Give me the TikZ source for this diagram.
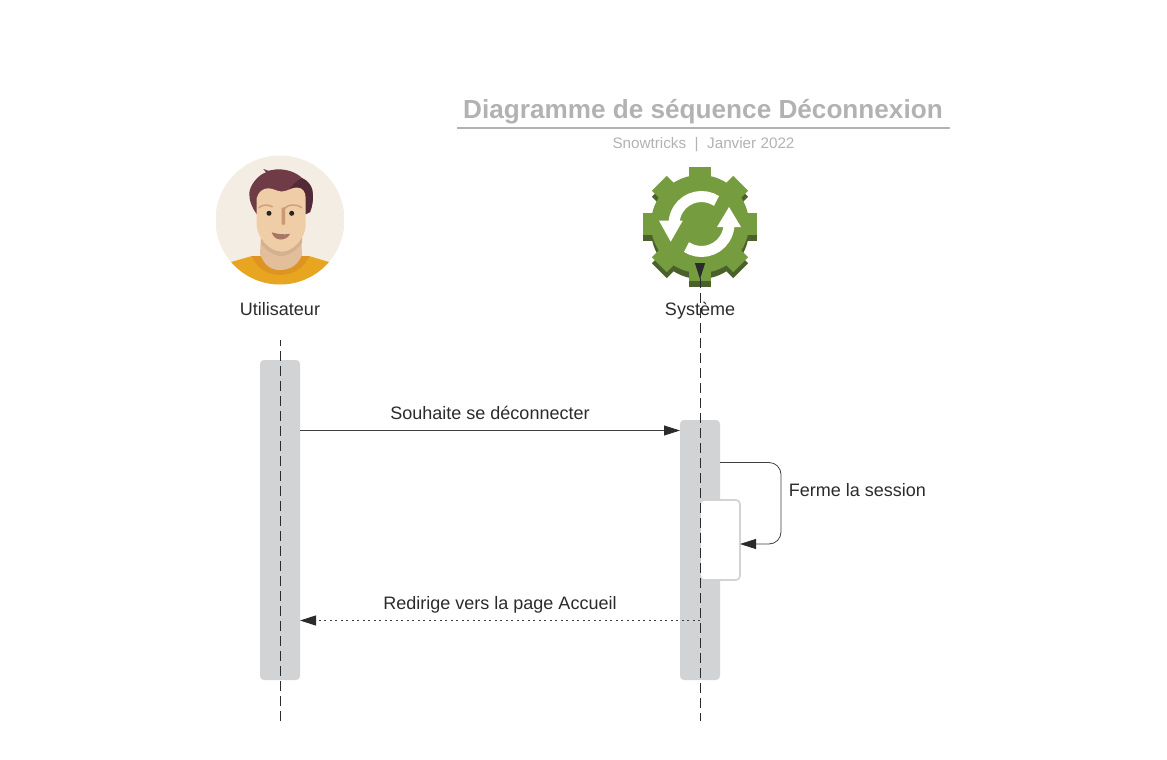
\documentclass[tikz,border=0pt]{standalone}
\usepackage{fontspec}
\setmainfont{Liberation Sans}
\usetikzlibrary{arrows.meta,calc}
\definecolor{bargrey}{HTML}{D1D3D4}
\definecolor{ink}{HTML}{2B2B2B}
\definecolor{wire}{HTML}{3F3F3F}
\definecolor{titlegrey}{HTML}{B2B2B2}
\definecolor{gearlight}{HTML}{759C3E}
\definecolor{geardark}{HTML}{4B612C}
\definecolor{avbg}{HTML}{F4EDE4}
\definecolor{shirt}{HTML}{E8A520}
\definecolor{collar}{HTML}{DE9420}
\definecolor{neck}{HTML}{E2BF9A}
\definecolor{neckshade}{HTML}{D3B08F}
\definecolor{hair}{HTML}{6F3B47}
\definecolor{hairdark}{HTML}{532A38}
\definecolor{skin}{HTML}{EFCDA6}
\definecolor{brow}{HTML}{CFA07A}
\definecolor{eye}{HTML}{2B2320}
\definecolor{nose}{HTML}{C99A73}
\definecolor{mouth}{HTML}{A97565}
\tikzset{
  x=1pt,y=-1pt,
  bar/.style={rectangle,fill=bargrey,rounded corners=4pt,minimum width=40pt,inner sep=0pt,outer sep=0pt},
  selfbox/.style={rectangle,fill=white,draw=bargrey,line width=1.7pt,rounded corners=4pt,minimum width=40pt,minimum height=80pt,inner sep=0pt,outer sep=0pt},
  lifeline/.style={draw=ink,line width=0.9pt,dash pattern=on 10pt off 5pt},
  msg/.style={draw=wire,line width=0.8pt,-{Triangle[length=16pt,width=10pt,color=ink]}},
  lbl/.style={text=ink,font=\fontsize{18}{21}\selectfont,inner sep=0pt},
  gearshape/.pic={
    \fill (0,0) circle[radius=49];
    \foreach \a in {0,90,180,270}{
      \begin{scope}[rotate=\a]\fill (-11,-57) rectangle (11,-40);\end{scope}
    }
    \foreach \a in {45,135,225,315}{
      \begin{scope}[rotate=\a]\fill (-10.5,-57.5) rectangle (10.5,-40);\end{scope}
    }
  }
}
\begin{document}
\begin{tikzpicture}
\useasboundingbox (0,0) rectangle (1167,760);
% title
\node[text=titlegrey,font=\fontsize{26.15}{30}\selectfont\bfseries,inner sep=0pt] (title) at (703,111.5) {Diagramme de séquence Déconnexion};
\coordinate (ruleL) at (457,128);
\coordinate (ruleR) at (950,128);
\draw[titlegrey,line width=1.6pt] (ruleL) -- (ruleR);
\node[text=titlegrey,font=\fontsize{15.25}{17}\selectfont,inner sep=0pt] (subtitle) at (703.5,145) {Snowtricks \ | \ Janvier 2022};
% user avatar
\begin{scope}
  \clip (280,220) circle[radius=64.5];
  \clip (216,150) rectangle (344,284);
  \fill[avbg] (200,150) rectangle (360,290);
  % shirt
  \fill[shirt] (231,262) -- (252,256) -- (309,256) -- (329,262) -- (345,290) -- (215,290) -- cycle;
  \fill[collar] (252,256) .. controls (256,268) and (268,275) .. (280,275) .. controls (294,275) and (304,268) .. (309,256) -- cycle;
  % neck
  \fill[neck] (261,235) -- (301,235) -- (302,255) .. controls (298,265) and (290,270) .. (280,270) .. controls (271,270) and (264,265) .. (260,254) -- cycle;
  \fill[neckshade] (261,235) -- (302,235) -- (302,243) .. controls (297,250) and (288,256) .. (281,256) .. controls (274,256) and (266,250) .. (261,244) -- cycle;
  % hair
  \fill[hair] (263.3,169) -- (268.3,170.7) .. controls (272,170.5) and (274,169.3) .. (276.7,169.3)
     .. controls (286,169) and (296,172) .. (302,178)
     .. controls (308,181) and (311,185) .. (312.3,190)
     .. controls (313.5,196) and (313,205) .. (310,212) -- (306,214) -- (256.7,214)
     .. controls (252,208) and (249,200) .. (249.3,193)
     .. controls (250,185) and (258,175) .. (266,172.3) -- cycle;
  \fill[hairdark] (290,188.5) .. controls (293,184) and (297,181) .. (302,178)
     .. controls (308,181) and (311,185) .. (312.3,190)
     .. controls (313.5,196) and (313,205) .. (310,212) -- (306,214) -- (305,197) -- cycle;
  % face
  \fill[skin] (256.7,198.3) .. controls (258,192) and (263,188.3) .. (268.3,188.3)
     .. controls (273,188.3) and (277,191.5) .. (281.7,191.5)
     .. controls (287,191.5) and (292,187.5) .. (296.7,187.5)
     .. controls (303,187.5) and (305.5,192) .. (305.7,198.3)
     -- (305.7,225) .. controls (305.5,238) and (293,251.7) .. (281.7,251.7)
     .. controls (270,251.7) and (257,238) .. (256.7,225) -- cycle;
  % brows
  \draw[brow,line width=1.5pt,line cap=round] (259,207.7) .. controls (261,205) and (268,204) .. (272.3,206.7);
  \draw[brow,line width=1.5pt,line cap=round] (285,208.3) .. controls (287,205) and (295,203) .. (301.7,207.7);
  % eyes
  \fill[eye] (269,213.3) circle[radius=2.5];
  \fill[eye] (291.7,213.3) circle[radius=2.5];
  % nose
  \fill[nose] (281.7,208) -- (285,207) -- (285,224) .. controls (285,225.5) and (281.7,225.5) .. (281.7,224) -- cycle;
  % mouth
  \fill[mouth] (271.7,232.3) .. controls (277,234) and (284,235) .. (290,233.8) .. controls (288.5,238) and (284,239.5) .. (280.5,239.5) .. controls (276,239.5) and (273,236.5) .. (271.7,232.3) -- cycle;
\end{scope}
% gear
\path[fill=geardark] (700,230) pic {gearshape};
\path[fill=gearlight] (700,224) pic {gearshape};
\draw[white,line width=11pt] (701.5,224) ++(-57:27.5) arc[start angle=-57,end angle=-180,radius=27.5];
\draw[white,line width=11pt] (701.5,224) ++(123:27.5) arc[start angle=123,end angle=0,radius=27.5];
\fill[white] (659,220.7) -- (682.7,220.7) -- (670.7,241.7) -- cycle;
\fill[white] (717,227) -- (741,227) -- (729,207) -- cycle;
\node[lbl] (sysname) at (700,311) {Système};
\node[lbl] (username) at (280,309.3) {Utilisateur};
% activation bars
\node[bar,minimum height=320pt] (ubar) at (280,520) {};
\node[bar,minimum height=260pt] (sbar) at (700,550) {};
% self-call box
\node[selfbox] (selfb) at (720,540) {};
% lifelines
\coordinate (utop) at (280,340);
\coordinate (ubot) at (280,721);
\coordinate (stop) at (700,263);
\coordinate (sbot) at (700,721);
\draw[lifeline,dash phase=4pt] (utop) -- (ubot);
\draw[lifeline,dash phase=14pt,{Triangle[length=16pt,width=10pt,color=ink,reversed]}-] (stop) -- (sbot);
% rows
\coordinate (rowA) at (0,430.5);
\coordinate (rowB) at (0,620.5);
\coordinate (rowC) at (0,462.5);
\coordinate (rowD) at (0,544);
\draw[msg] (ubar.east |- rowA) -- (sbar.west |- rowA);
\draw[draw=wire,line width=1pt,dash pattern=on 2pt off 3.5pt,-{Triangle[length=16pt,width=10pt,color=ink]}] (sbar.center |- rowB) -- (ubar.east |- rowB);
\draw[msg,rounded corners=12pt] (sbar.east |- rowC) -- (781,462.5) -- (781,544) -- (selfb.east |- rowD);
% labels
\node[lbl] (l1) at (490,413) {Souhaite se déconnecter};
\node[lbl] (l2) at (857.5,490.2) {Ferme la session};
\node[lbl] (l3) at (500,604.5) {Redirige vers la page Accueil};
\end{tikzpicture}
\end{document}
